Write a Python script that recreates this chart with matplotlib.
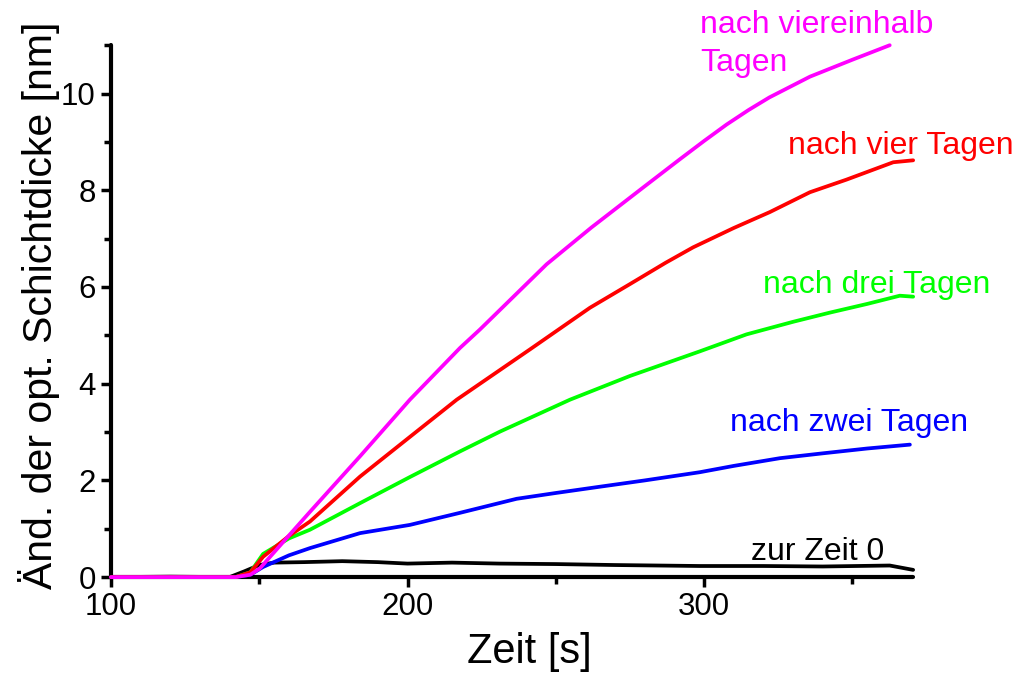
import matplotlib
matplotlib.use("Agg")
import matplotlib.pyplot as plt
from matplotlib.ticker import MultipleLocator

plt.rcParams['font.family'] = ['Liberation Sans', 'DejaVu Sans']

# Data (time in s, change of optical layer thickness in nm)
x_black = [100, 120, 140, 145, 150, 155, 165, 178, 190, 200, 215, 231, 250, 270, 298.6, 320, 340, 362.6, 370.5]
y_black = [0, 0.01, 0.0, 0.12, 0.25, 0.30, 0.31, 0.33, 0.31, 0.28, 0.30, 0.28, 0.27, 0.25, 0.23, 0.23, 0.22, 0.24, 0.15]

x_blue = [100, 142, 147, 151.3, 160, 167.1, 184, 200.8, 217.7, 236.8, 250, 264.9, 280, 298.6, 310, 325.6, 340, 355, 369.4]
y_blue = [0, 0, 0.05, 0.21, 0.45, 0.60, 0.91, 1.08, 1.33, 1.62, 1.74, 1.87, 2.00, 2.17, 2.30, 2.46, 2.56, 2.66, 2.74]

x_green = [100, 142, 147, 151.3, 160, 167.1, 184, 200.8, 217.7, 231.2, 254.8, 275, 298.6, 314.3, 330, 342.4, 355, 366, 370.5]
y_green = [0, 0, 0.10, 0.48, 0.80, 0.98, 1.53, 2.07, 2.60, 3.01, 3.67, 4.16, 4.67, 5.02, 5.28, 5.47, 5.65, 5.82, 5.80]

x_red = [100, 142, 147, 151.3, 160, 167.1, 184, 200.8, 216.6, 241.3, 261.5, 275, 287, 296.3, 310, 322.2, 335.7, 348, 363.8, 370.5]
y_red = [0, 0, 0.10, 0.42, 0.85, 1.15, 2.08, 2.90, 3.67, 4.71, 5.57, 6.06, 6.50, 6.82, 7.22, 7.55, 7.96, 8.22, 8.58, 8.62]

x_mag = [100, 142, 147, 150.2, 160, 167.1, 184, 200.8, 217.7, 224.4, 246.9, 262, 279.5, 291.8, 300, 307.6, 315, 322, 335.7, 350, 362.6]
y_mag = [0, 0, 0.05, 0.18, 0.86, 1.35, 2.50, 3.67, 4.74, 5.12, 6.47, 7.23, 8.06, 8.64, 9.02, 9.36, 9.66, 9.92, 10.35, 10.70, 11.00]

# label text, x of left edge, y position (data units)
series = [
    (x_black, y_black, 'black', 'zur Zeit 0', 315.7, 0.35),
    (x_blue, y_blue, '#0000FF', 'nach zwei Tagen', 308.7, 3.02),
    (x_green, y_green, '#00FF00', 'nach drei Tagen', 319.9, 5.88),
    (x_red, y_red, '#FF0000', 'nach vier Tagen', 328.4, 8.76),
    (x_mag, y_mag, '#FF00FF', 'nach viereinhalb\nTagen', 298.6, 11.72),
]

fig = plt.figure(figsize=(10.18, 6.75), dpi=100)
ax = fig.add_axes([0.109, 0.145, 0.788, 0.788])

for i, (xs, ys, col, lab, tx, ty) in enumerate(series):
    ax.plot(xs, ys, color=col, lw=2.7, solid_capstyle='round', solid_joinstyle='round',
            zorder=3 + i, clip_on=False)
    if '\n' in lab:
        ax.text(tx, ty, lab, color=col, fontsize=23, ha='left', va='top',
                linespacing=1.35, clip_on=False)
    else:
        ax.text(tx, ty, lab, color=col, fontsize=23, ha='left', va='baseline', clip_on=False)

ax.set_xlim(100, 370.5)
ax.set_ylim(0, 11)
ax.xaxis.set_major_locator(MultipleLocator(100))
ax.xaxis.set_minor_locator(MultipleLocator(50))
ax.yaxis.set_major_locator(MultipleLocator(2))
ax.yaxis.set_minor_locator(MultipleLocator(1))

for s in ['top', 'right']:
    ax.spines[s].set_visible(False)
for s in ['left', 'bottom']:
    ax.spines[s].set_linewidth(3)
    ax.spines[s].set_capstyle('round')

ax.tick_params(axis='both', which='major', direction='out', length=7, width=2.5,
               labelsize=22.5, pad=4)
ax.tick_params(axis='both', which='minor', direction='out', length=5, width=2.5)

ax.set_xlabel('Zeit [s]', fontsize=30)
ax.set_ylabel('Änd. der opt. Schichtdicke [nm]', fontsize=29.5)
ax.xaxis.set_label_coords(0.521, -0.104, transform=ax.transAxes)
ax.xaxis.label.set_va('top')
ax.yaxis.set_label_coords(-0.064, 0.511, transform=ax.transAxes)

fig.savefig('out.png', dpi=100)
